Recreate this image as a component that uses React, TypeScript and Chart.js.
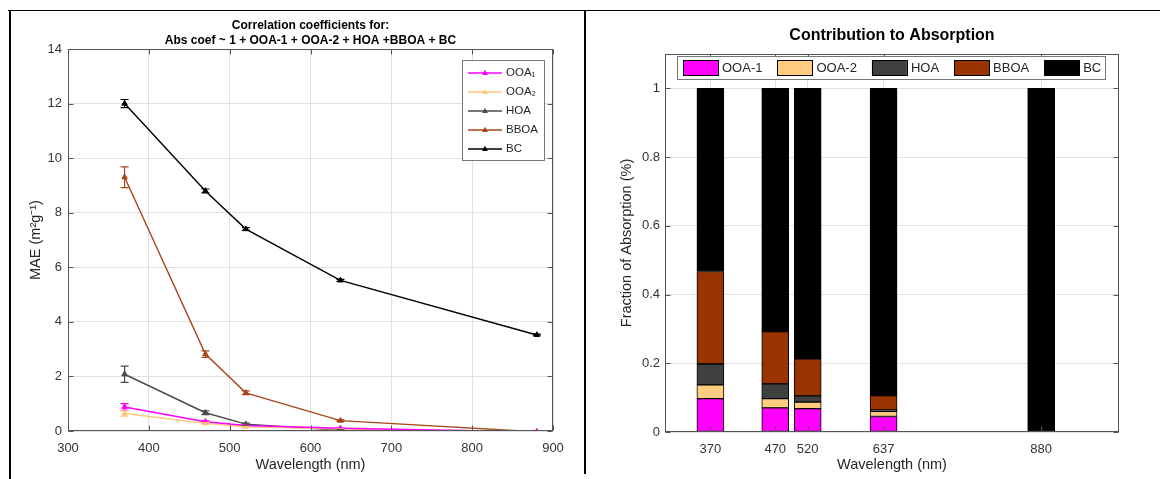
import React, { useEffect, useRef } from "react";
import { Chart, registerables } from "chart.js";
Chart.register(...registerables);

const FONT = "'Liberation Sans', Arial, Helvetica, sans-serif";

// ---------- Left panel data (MAE vs wavelength) ----------
const wavelengths = [370, 470, 520, 637, 880];
const lineLabels = ["OOA₁", "OOA₂", "HOA", "BBOA", "BC"];
const maeOOA1 = [0.88, 0.34, 0.2, 0.1, -0.03];
const maeOOA2 = [0.64, 0.28, 0.15, 0.07, -0.02];
const maeHOA = [2.08, 0.67, 0.25, 0.03, -0.05];
const maeBBOA = [9.3, 2.82, 1.4, 0.38, -0.03];
const maeBC = [12.0, 8.8, 7.4, 5.52, 3.52];
const errOOA1 = [0.12, 0.03, 0.02, 0.01, 0];
const errOOA2 = [0.1, 0.03, 0.02, 0.01, 0];
const errHOA = [0.3, 0.07, 0.04, 0.02, 0];
const errBBOA = [0.38, 0.12, 0.07, 0.03, 0];
const errBC = [0.15, 0.07, 0.05, 0.04, 0.03];
const lineColors = ["#ff00ff", "#ffc878", "#4a4a4a", "#a8461a", "#000000"];
const xTicksLeft = [300, 400, 500, 600, 700, 800, 900];
const yTicksLeft = [0, 2, 4, 6, 8, 10, 12, 14];
const leftTitle = ["Correlation coefficients for:", "Abs coef ~ 1 + OOA-1 + OOA-2 + HOA +BBOA + BC"];

// ---------- Right panel data (fraction of absorption) ----------
const barLabels = ["OOA-1", "OOA-2", "HOA", "BBOA", "BC"];
const fracOOA1 = [0.097, 0.07, 0.068, 0.045, 0];
const fracOOA2 = [0.04, 0.027, 0.019, 0.015, 0];
const fracHOA = [0.061, 0.043, 0.018, 0.004, 0];
const fracBBOA = [0.269, 0.152, 0.108, 0.042, 0];
const fracBC = [0.533, 0.708, 0.787, 0.894, 1.0];
const barColors = ["#ff00ff", "#ffcc80", "#404040", "#993300", "#000000"];
const yTicksRight = [0, 0.2, 0.4, 0.6, 0.8, 1];

const lineValues = [maeOOA1, maeOOA2, maeHOA, maeBBOA, maeBC];
const lineErrors = [errOOA1, errOOA2, errHOA, errBBOA, errBC];
const barValues = [fracOOA1, fracOOA2, fracHOA, fracBBOA, fracBC];

function triangle(ctx: CanvasRenderingContext2D, x: number, y: number, r: number) {
  ctx.beginPath();
  ctx.moveTo(x, y - r);
  ctx.lineTo(x + r * 0.9, y + r * 0.6);
  ctx.lineTo(x - r * 0.9, y + r * 0.6);
  ctx.closePath();
  ctx.fill();
}

const axesBox = {
  id: "axesBox",
  afterDraw(chart: any, _args: any, opts: any) {
    const { ctx, chartArea: a, scales } = chart;
    ctx.save();
    ctx.strokeStyle = opts.color || "#555";
    ctx.lineWidth = 1;
    const L = Math.round(a.left) + 0.5, R = Math.round(a.right) - 0.5;
    const T = Math.round(a.top) + 0.5, B = Math.round(a.bottom) - 0.5;
    ctx.strokeRect(L, T, R - L, B - T);
    const tl = 5;
    ctx.beginPath();
    scales.x.ticks.forEach((t: any) => {
      const px = Math.round(scales.x.getPixelForValue(t.value)) + 0.5;
      ctx.moveTo(px, B); ctx.lineTo(px, B - tl);
      ctx.moveTo(px, T); ctx.lineTo(px, T + tl);
    });
    scales.y.ticks.forEach((t: any) => {
      const py = Math.round(scales.y.getPixelForValue(t.value)) + 0.5;
      ctx.moveTo(L, py); ctx.lineTo(L + tl, py);
      ctx.moveTo(R, py); ctx.lineTo(R - tl, py);
    });
    ctx.stroke();
    ctx.restore();
  },
};

const errorBars = {
  id: "errorBars",
  afterDatasetsDraw(chart: any) {
    const { ctx, chartArea: a, scales } = chart;
    ctx.save();
    ctx.beginPath();
    ctx.rect(a.left, a.top, a.right - a.left, a.bottom - a.top);
    ctx.clip();
    chart.data.datasets.forEach((ds: any) => {
      if (!ds.errorBars) return;
      ctx.strokeStyle = ds.borderColor;
      ctx.lineWidth = 1.2;
      ds.data.forEach((p: any, i: number) => {
        const e = ds.errorBars[i];
        if (!e) return;
        const px = scales.x.getPixelForValue(p.x);
        const y1 = scales.y.getPixelForValue(p.y + e);
        const y2 = scales.y.getPixelForValue(p.y - e);
        ctx.beginPath();
        ctx.moveTo(px, y1); ctx.lineTo(px, y2);
        ctx.moveTo(px - 4, y1); ctx.lineTo(px + 4, y1);
        ctx.moveTo(px - 4, y2); ctx.lineTo(px + 4, y2);
        ctx.stroke();
      });
    });
    ctx.restore();
  },
};

const lineLegend = {
  id: "lineLegend",
  afterDraw(chart: any, _args: any, opts: any) {
    const { ctx, chartArea: a } = chart;
    const x = a.right - opts.right - opts.width;
    const y = a.top + opts.top;
    ctx.save();
    ctx.fillStyle = "#fff";
    ctx.fillRect(x, y, opts.width, opts.height);
    ctx.strokeStyle = "#777";
    ctx.lineWidth = 1;
    ctx.strokeRect(Math.round(x) + 0.5, Math.round(y) + 0.5, opts.width, opts.height);
    chart.data.datasets.forEach((ds: any, i: number) => {
      const cy = y + opts.rowStart + i * opts.rowGap;
      ctx.strokeStyle = ds.borderColor;
      ctx.lineWidth = 1.3;
      ctx.beginPath();
      ctx.moveTo(x + 6, cy); ctx.lineTo(x + 40, cy);
      ctx.stroke();
      ctx.fillStyle = ds.borderColor;
      triangle(ctx, x + 23, cy, 3.2);
      ctx.fillStyle = "#262626";
      ctx.font = `11.5px ${FONT}`;
      ctx.textBaseline = "middle";
      ctx.textAlign = "left";
      ctx.fillText(ds.label, x + 44, cy);
    });
    ctx.restore();
  },
};

const barLegend = {
  id: "barLegend",
  afterDraw(chart: any, _args: any, opts: any) {
    const { ctx, chartArea: a } = chart;
    const x = a.left + opts.left;
    const y = a.top + opts.top;
    ctx.save();
    ctx.fillStyle = "#fff";
    ctx.fillRect(x, y, opts.width, opts.height);
    ctx.strokeStyle = "#777";
    ctx.lineWidth = 1;
    ctx.strokeRect(Math.round(x) + 0.5, Math.round(y) + 0.5, opts.width, opts.height);
    ctx.font = `13px ${FONT}`;
    ctx.textBaseline = "middle";
    ctx.textAlign = "left";
    let cx = x + 6;
    const cy = y + opts.height / 2;
    chart.data.datasets.forEach((ds: any) => {
      ctx.fillStyle = ds.backgroundColor;
      ctx.fillRect(cx, cy - 7.5, 35, 15);
      ctx.strokeStyle = "#000";
      ctx.strokeRect(Math.round(cx) + 0.5, Math.round(cy - 7.5) + 0.5, 35, 15);
      ctx.fillStyle = "#262626";
      ctx.fillText(ds.label, cx + 39, cy + 0.5);
      cx += 39 + ctx.measureText(ds.label).width + 15;
    });
    ctx.restore();
  },
};

function LeftChart() {
  const ref = useRef<HTMLCanvasElement>(null);
  useEffect(() => {
    const chart = new Chart(ref.current!, {
      type: "line",
      data: {
        datasets: lineLabels.map((label, k) => ({
          label,
          data: wavelengths.map((w, i) => ({ x: w, y: lineValues[k][i] })),
          borderColor: lineColors[k],
          backgroundColor: lineColors[k],
          borderWidth: 1.4,
          pointStyle: "triangle",
          pointRadius: 3.2,
          pointBorderWidth: 1,
          tension: 0,
          errorBars: lineErrors[k],
        })) as any,
      },
      options: {
        animation: false,
        responsive: false,
        layout: { padding: { left: 0, right: 29, top: 0, bottom: 0 } },
        plugins: {
          legend: { display: false },
          tooltip: { enabled: false },
          title: {
            display: true,
            text: leftTitle,
            fullSize: false,
            color: "#000",
            font: { family: FONT, size: 12, weight: "bold", lineHeight: 1.25 },
            padding: { top: 6.5, bottom: 0.5 },
          },
          axesBox: { color: "#555" },
          lineLegend: { right: 9, top: 11, width: 82, height: 100, rowStart: 13, rowGap: 19 },
        } as any,
        scales: {
          x: {
            type: "linear",
            min: 300,
            max: 900,
            afterBuildTicks: (s: any) => { s.ticks = xTicksLeft.map((v) => ({ value: v })); },
            afterFit: (s: any) => { s.height = 43; },
            grid: { color: "#e0e0e0", drawTicks: false },
            border: { display: false },
            ticks: { padding: 10, color: "#333", font: { family: FONT, size: 13 } },
            title: { display: true, text: "Wavelength (nm)", color: "#262626", font: { family: FONT, size: 14.5 }, padding: { top: 0, bottom: 0 } },
          },
          y: {
            type: "linear",
            min: 0,
            max: 14,
            afterBuildTicks: (s: any) => { s.ticks = yTicksLeft.map((v) => ({ value: v })); },
            afterFit: (s: any) => { s.width = 56; },
            grid: { color: "#e0e0e0", drawTicks: false },
            border: { display: false },
            ticks: { padding: 6, color: "#333", font: { family: FONT, size: 13 } },
            title: { display: true, text: "MAE (m²g⁻¹)", color: "#262626", font: { family: FONT, size: 14.5 }, padding: { top: 15, bottom: 0 } },
          },
        },
      },
      plugins: [axesBox, errorBars, lineLegend],
    });
    return () => chart.destroy();
  }, []);
  return <canvas ref={ref} width={570} height={462} style={{ position: "absolute", left: 12, top: 12 }} />;
}

function RightChart() {
  const ref = useRef<HTMLCanvasElement>(null);
  useEffect(() => {
    const chart = new Chart(ref.current!, {
      type: "bar",
      data: {
        datasets: barLabels.map((label, k) => ({
          label,
          data: wavelengths.map((w, i) => ({ x: w, y: barValues[k][i] })),
          backgroundColor: barColors[k],
          borderColor: "#000",
          borderWidth: 1,
          borderSkipped: false,
          barThickness: 27,
        })) as any,
      },
      options: {
        animation: false,
        responsive: false,
        layout: { padding: { left: 0, right: 41, top: 0, bottom: 0 } },
        plugins: {
          legend: { display: false },
          tooltip: { enabled: false },
          title: {
            display: true,
            text: "Contribution to Absorption",
            fullSize: false,
            color: "#000",
            font: { family: FONT, size: 16, weight: "bold", lineHeight: 1.2 },
            padding: { top: 14, bottom: 8.8 },
          },
          axesBox: { color: "#555" },
          barLegend: { left: 12, top: 2, width: 428, height: 23 },
        } as any,
        scales: {
          x: {
            type: "linear",
            min: 300,
            max: 1000,
            stacked: true,
            offset: false,
            afterBuildTicks: (s: any) => { s.ticks = wavelengths.map((v) => ({ value: v })); },
            afterFit: (s: any) => { s.height = 42; },
            grid: { color: "#e0e0e0", drawTicks: false, offset: false },
            border: { display: false },
            ticks: { padding: 10, color: "#333", font: { family: FONT, size: 13 } },
            title: { display: true, text: "Wavelength (nm)", color: "#262626", font: { family: FONT, size: 14.5 }, padding: { top: 0, bottom: 0 } },
          },
          y: {
            type: "linear",
            min: 0,
            max: 1.1,
            stacked: true,
            afterBuildTicks: (s: any) => { s.ticks = yTicksRight.map((v) => ({ value: v })); },
            afterFit: (s: any) => { s.width = 78; },
            grid: { color: "#e0e0e0", drawTicks: false },
            border: { display: false },
            ticks: { padding: 5, color: "#333", font: { family: FONT, size: 13 }, callback: (v: any) => String(Math.round(Number(v) * 100) / 100) },
            title: { display: true, text: "Fraction of Absorption (%)", color: "#262626", font: { family: FONT, size: 14.5 }, padding: { top: 31, bottom: 0 } },
          },
        },
      },
      plugins: [axesBox, barLegend],
    });
    return () => chart.destroy();
  }, []);
  return <canvas ref={ref} width={573} height={462} style={{ position: "absolute", left: 587, top: 12 }} />;
}

export default function App() {
  return (
    <div style={{ position: "fixed", left: 0, top: 0, width: 1160, height: 479, background: "#fff", overflow: "hidden" }}>
      <div style={{ position: "absolute", left: 8, top: 10, width: 1152, height: 1, background: "#000" }} />
      <div style={{ position: "absolute", left: 9, top: 10, width: 2, height: 469, background: "#000" }} />
      <div style={{ position: "absolute", left: 584, top: 10, width: 2, height: 464, background: "#000" }} />
      <LeftChart />
      <RightChart />
    </div>
  );
}
